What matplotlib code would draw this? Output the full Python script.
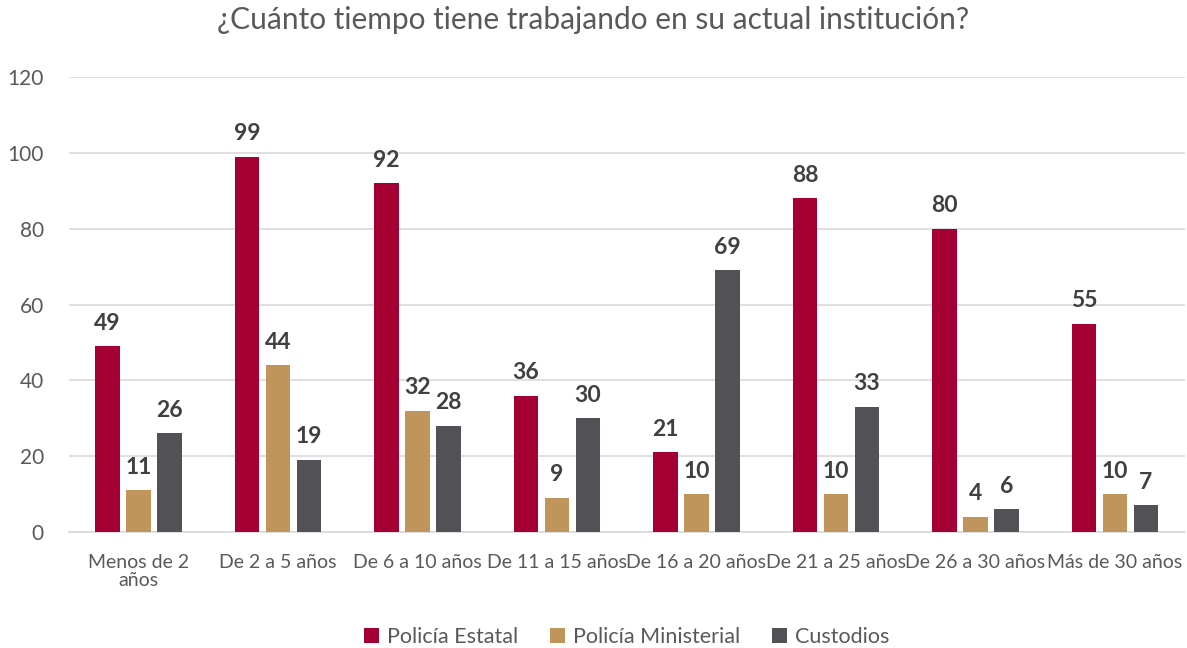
import matplotlib.pyplot as plt
import numpy as np

categories = ["Menos de 2\naños", "De 2 a 5 años", "De 6 a 10 años", "De 11 a 15 años",
              "De 16 a 20 años", "De 21 a 25 años", "De 26 a 30 años", "Más de 30 años"]
estatal = [49, 99, 92, 36, 21, 88, 80, 55]
ministerial = [11, 44, 32, 9, 10, 10, 4, 10]
custodios = [26, 19, 28, 30, 69, 33, 6, 7]
series_names = ["Policía Estatal", "Policía Ministerial", "Custodios"]
colors = ["#A50034", "#BF955B", "#525256"]

plt.rcParams['font.family'] = ['Lato', 'DejaVu Sans']
txt = "#595959"

fig = plt.figure(figsize=(11.87, 6.48), dpi=100)
ax = fig.add_axes([0.058, 0.179, 0.94, 0.702])

x = np.arange(len(categories))
w = 0.175
pitch = 0.222
for i, (vals, c, name) in enumerate(zip([estatal, ministerial, custodios], colors, series_names)):
    pos = x + (i - 1) * pitch
    ax.bar(pos, vals, width=w, color=c, label=name, zorder=3)
    for p, v in zip(pos, vals):
        ax.text(p, v + 3.3, str(v), ha='center', va='bottom', fontsize=16.5,
                fontweight='bold', color="#404040")

ax.set_xlim(-0.5, len(categories) - 0.5)
ax.set_ylim(0, 120)
ax.set_yticks(range(0, 121, 20))
ax.grid(axis='y', color="#D9D9D9", linewidth=1.2, zorder=0)
for s in ['top', 'right', 'left']:
    ax.spines[s].set_visible(False)
ax.spines['bottom'].set_color("#D9D9D9")
ax.spines['bottom'].set_linewidth(1.2)
ax.tick_params(axis='x', length=0, labelsize=14, colors=txt, pad=16)
ax.tick_params(axis='y', length=0, labelsize=15, colors=txt, pad=18)
ax.set_xticks(x)
ax.set_xticklabels(categories, linespacing=1.05)

fig.suptitle("¿Cuánto tiempo tiene trabajando en su actual institución?", fontsize=21.5,
             color=txt, y=0.99)
ax.legend(loc='lower center', bbox_to_anchor=(0.5, -0.295), ncol=3, frameon=False,
          fontsize=15.5, labelcolor=txt, handlelength=0.7, handleheight=0.7,
          handletextpad=0.35, columnspacing=1.5)

fig.savefig("out.png", dpi=100)
